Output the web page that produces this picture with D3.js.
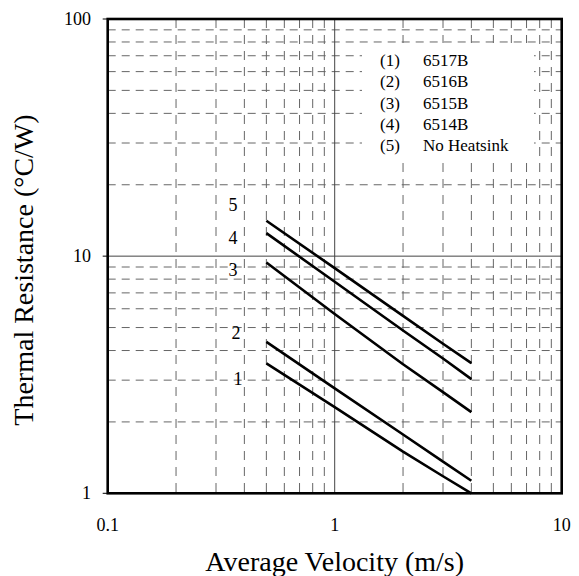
<!DOCTYPE html>
<html><head><meta charset="utf-8">
<script src="https://cdn.jsdelivr.net/npm/d3@7"></script>
<style>body{margin:0;background:#fff}svg{display:block}text{font-family:"Liberation Serif","Times New Roman",serif;fill:#000}</style>
</head><body>
<svg id="c" width="579" height="576"></svg>
<script>
const velocities = [0.5, 1, 2, 3, 4];
const series1 = [3.53, 2.31, 1.50, 1.18, 1.00];
const series2 = [4.35, 2.77, 1.77, 1.36, 1.13];
const series3 = [9.4, 5.7, 3.5, 2.67, 2.2];
const series4 = [12.5, 7.8, 4.86, 3.7, 3.03];
const series5 = [14.1, 8.9, 5.6, 4.27, 3.54];
const seriesLabels = ["1", "2", "3", "4", "5"];
const legendNums = ["(1)", "(2)", "(3)", "(4)", "(5)"];
const legendNames = ["6517B", "6516B", "6515B", "6514B", "No Heatsink"];
const xTicks = [0.1, 1, 10];
const yTicks = [1, 10, 100];
const xTitle = "Average Velocity (m/s)";
const yTitle = "Thermal Resistance (\u00B0C/W)";

const allSeries = [series1, series2, series3, series4, series5];
const svg = d3.select("#c");
const L = 107.7, R = 561.7, T = 19, B = 493.3;
const x = d3.scaleLog().domain([0.1, 10]).range([L, R]);
const y = d3.scaleLog().domain([1, 100]).range([B, T]);

// grid
const minorX = [], minorY = [];
[0.1, 1].forEach(d => { for (let k = 2; k <= 9; k++) minorX.push(d * k); });
[1, 10].forEach(d => { for (let k = 2; k <= 9; k++) minorY.push(d * k); });
const g = svg.append("g");
g.selectAll(".vx").data(minorX).join("line")
  .attr("x1", d => x(d)).attr("x2", d => x(d)).attr("y1", T).attr("y2", B)
  .attr("stroke", "#666").attr("stroke-width", 1).attr("stroke-dasharray", "9,7");
g.selectAll(".hy").data(minorY).join("line")
  .attr("x1", L).attr("x2", R).attr("y1", d => y(d)).attr("y2", d => y(d))
  .attr("stroke", "#666").attr("stroke-width", 1).attr("stroke-dasharray", "8,6");
g.append("line").attr("x1", x(1)).attr("x2", x(1)).attr("y1", T).attr("y2", B)
  .attr("stroke", "#444").attr("stroke-width", 1);
g.append("line").attr("x1", L).attr("x2", R).attr("y1", y(10)).attr("y2", y(10))
  .attr("stroke", "#444").attr("stroke-width", 1);

// legend background
svg.append("rect").attr("x", 362).attr("y", 43).attr("width", 172).attr("height", 120).attr("fill", "#fff");

// lines
const line = d3.line().x((d, i) => x(velocities[i])).y(d => y(d));
svg.selectAll(".s").data(allSeries).join("path")
  .attr("d", d => line(d)).attr("fill", "none").attr("stroke", "#000")
  .attr("stroke-width", 2.6).attr("stroke-linejoin", "round");

// series labels
const labelPos = [[238, 379], [236, 333], [233, 270], [233, 238], [233, 205]];
svg.selectAll(".sl").data(seriesLabels).join("text")
  .attr("x", (d, i) => labelPos[i][0]).attr("y", (d, i) => labelPos[i][1] + 6)
  .attr("text-anchor", "middle").attr("font-size", 18).text(d => d);

// legend
legendNums.forEach((n, i) => {
  const yy = 66 + i * 21.3;
  svg.append("text").attr("x", 380).attr("y", yy).attr("font-size", 17).text(n);
  svg.append("text").attr("x", 423).attr("y", yy).attr("font-size", 17).text(legendNames[i]);
});

// frame
svg.append("rect").attr("x", L).attr("y", T).attr("width", R - L).attr("height", B - T)
  .attr("fill", "none").attr("stroke", "#000").attr("stroke-width", 2.6);

// ticks
svg.selectAll(".xt").data(xTicks).join("text")
  .attr("x", d => x(d)).attr("y", 531).attr("text-anchor", "middle").attr("font-size", 18)
  .text(d => d);
svg.selectAll(".yt").data(yTicks).join("text")
  .attr("x", 91).attr("y", d => y(d) + 6).attr("text-anchor", "end").attr("font-size", 18)
  .text(d => d);
svg.selectAll(".ytk").data(yTicks).join("line")
  .attr("x1", L - 5).attr("x2", L).attr("y1", d => y(d)).attr("y2", d => y(d))
  .attr("stroke", "#000").attr("stroke-width", 1);

// titles
svg.append("text").attr("x", (L + R) / 2).attr("y", 571).attr("text-anchor", "middle")
  .attr("font-size", 28).text(xTitle);
svg.append("text").attr("transform", "translate(33,270) rotate(-90)").attr("text-anchor", "middle")
  .attr("font-size", 28).text(yTitle);
</script>
</body></html>
